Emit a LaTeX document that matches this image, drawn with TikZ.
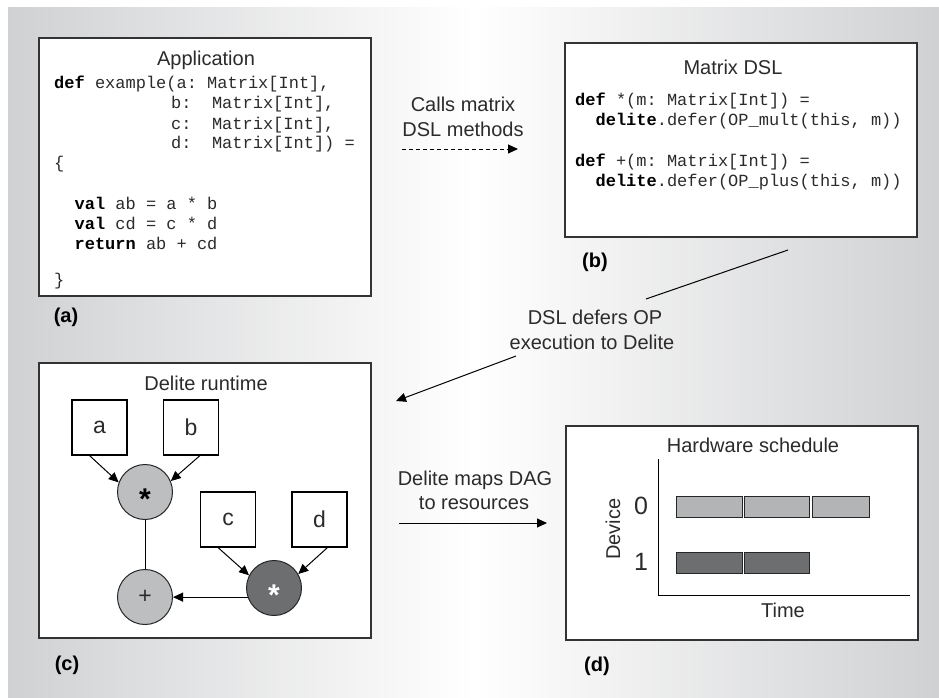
\documentclass[tikz,border=0pt]{standalone}
\usepackage{fontspec}
\setmainfont{Liberation Sans}
\setmonofont{Liberation Mono}
\usetikzlibrary{arrows.meta,calc}
\definecolor{bgg}{HTML}{D0D1D3}
\definecolor{lightop}{HTML}{BDBEC0}
\definecolor{darkop}{HTML}{6D6E70}
\definecolor{barlight}{HTML}{B3B4B6}
\definecolor{txt}{HTML}{2B2B2B}
\definecolor{frame}{HTML}{333333}
\tikzset{
  panel/.style={draw=frame, line width=1.5pt, fill=white, rectangle, inner sep=0pt},
  lbl/.style={font=\fontsize{20}{24}\selectfont, text=txt, anchor=base, inner sep=0pt},
  tag/.style={font=\fontsize{20}{24}\selectfont\bfseries, text=black, inner sep=0pt},
  code/.style={font=\fontsize{17}{20}\selectfont\ttfamily, text=txt, anchor=base west, inner sep=0pt},
  leaf/.style={draw=black, line width=1.1pt, fill=white, minimum size=55pt, inner sep=0pt, font=\fontsize{23}{23}\selectfont, text=txt},
  opc/.style={circle, draw=black!85, line width=1pt, minimum size=55pt, inner sep=0pt},
  ast/.style={font=\fontsize{30}{30}\selectfont\bfseries, inner sep=0pt, yshift=-7pt},
  tip/.style={-{Triangle[length=10pt,width=9pt]}, line width=1pt, black},
  bar/.style={draw=black!85, line width=1pt},
}
\begin{document}
\begin{tikzpicture}[x=1pt,y=-1pt]
\useasboundingbox (0,0) rectangle (939,698);
\fill[white] (0,0) rectangle (939,698);
\shade[left color=bgg,right color=bgg,middle color=white] (8,8) rectangle (939,698);

% panels
\node[panel, minimum width=332pt, minimum height=258pt] (pa) at (205,167) {};
\node[panel, minimum width=352pt, minimum height=194pt] (pb) at (741,140) {};
\node[panel, minimum width=332pt, minimum height=275pt] (pc) at (205,500.5) {};
\node[panel, minimum width=352pt, minimum height=214pt] (pd) at (742,533) {};

% panel (a)
\node[lbl] (ta) at (206,66) {Application};
\node[code] (a1) at (54,89) {\textbf{\color{black}def} example(a: Matrix[Int],};
\node[code] (a2) at (171,109) {b:~~Matrix[Int],};
\node[code] (a3) at (171,129) {c:~~Matrix[Int],};
\node[code] (a4) at (171,149) {d:~~Matrix[Int])~=};
\node[code] (a5) at (54,168) {\{};
\node[code] (a6) at (54,209) {~~\textbf{\color{black}val} ab = a * b};
\node[code] (a7) at (54,229) {~~\textbf{\color{black}val} cd = c * d};
\node[code] (a8) at (54,249) {~~\textbf{\color{black}return} ab + cd};
\node[code] (a9) at (54,285) {\}};
\node[tag] (la) at (66,317) {(a)};

% panel (b)
\node[lbl] (tb) at (733,75) {Matrix DSL};
\node[code] (b1) at (575,106) {\textbf{\color{black}def} *(m: Matrix[Int]) =};
\node[code] (b2) at (575,126) {~~\textbf{\color{black}delite}.defer(OP\_mult(this, m))};
\node[code] (b3) at (575,166) {\textbf{\color{black}def} +(m: Matrix[Int]) =};
\node[code] (b4) at (575,186) {~~\textbf{\color{black}delite}.defer(OP\_plus(this, m))};
\node[tag] (lb) at (595,262) {(b)};

% arrow (a)->(b)
\node[lbl] (l1a) at (463,112) {Calls matrix};
\node[lbl] (l1b) at (463,136) {DSL methods};
\coordinate (c1s) at (402,149);
\coordinate (c1e) at (518,149);
\draw[tip, dash pattern=on 4pt off 3pt] (c1s) -- (c1e);

% (b)->(c)
\coordinate (d1s) at (788,250);
\coordinate (d1e) at (646,299);
\draw[line width=1pt] (d1s) -- (d1e);
\node[lbl] (l2a) at (595,324) {DSL defers OP};
\node[lbl] (l2b) at (592,349) {execution to Delite};
\coordinate (d2s) at (516,356);
\coordinate (d2e) at (396,401);
\draw[tip] (d2s) -- (d2e);

% panel (c)
\node[lbl] (tc) at (206,390) {Delite runtime};
\node[leaf] (na) at (99.5,427.5) {a};
\node[leaf] (nb) at (191,427.5) {b};
\node[leaf] (nc) at (228,519.5) {c};
\node[leaf] (nd) at (319.5,519.5) {d};
\node[opc, fill=lightop] (m1) at (145,492) {};
\node[ast, text=black] (m1t) at (m1) {*};
\node[opc, fill=lightop, font=\fontsize{23}{23}\selectfont, text=txt] (pl) at (145,597) {+};
\node[opc, fill=darkop] (dk) at (274,588) {};
\node[ast, text=white] (dkt) at (dk) {*};
\draw[tip] ([xshift=-10pt]na.south) -- (m1.160);
\draw[tip] ([xshift=9pt]nb.south) -- (m1.23);
\draw[line width=1pt] (m1) -- (pl);
\draw[tip] ([xshift=-10pt]nc.south) -- (dk.153);
\draw[tip] ([xshift=8pt]nd.south) -- (dk.30);
\draw[tip] (dk.199) -- (dk.199 -| pl.east);
\node[tag] (lc) at (67,665) {(c)};

% (c)->(d)
\node[lbl] (l3a) at (475,485) {Delite maps DAG};
\node[lbl] (l3b) at (474,509) {to resources};
\coordinate (m3s) at (399,523);
\coordinate (m3e) at (547,523);
\draw[tip] (m3s) -- (m3e);

% panel (d)
\node[lbl] (td) at (753,452) {Hardware schedule};
\coordinate (ax0) at (658,459);
\coordinate (ax1) at (658,595);
\coordinate (ax2) at (910,595);
\draw[line width=1pt, black] (ax0) -- (ax1) -- (ax2);
\draw[bar, fill=barlight] (676,496) rectangle (742,517);
\draw[bar, fill=barlight] (744,496) rectangle (809,517);
\draw[bar, fill=barlight] (812,496) rectangle (869,517);
\draw[bar, fill=darkop] (676,552) rectangle (742,573);
\draw[bar, fill=darkop] (744,552) rectangle (809,573);
\node[font=\fontsize{25}{25}\selectfont, text=txt, inner sep=0pt] (y0) at (641,506) {0};
\node[font=\fontsize{25}{25}\selectfont, text=txt, inner sep=0pt] (y1) at (641,562) {1};
\node[font=\fontsize{20}{20}\selectfont, text=txt, rotate=90, inner sep=0pt] (dev) at (613,529) {Device};
\node[lbl] (tm) at (783,617) {Time};
\node[tag] (ld) at (597,666) {(d)};
\end{tikzpicture}
\end{document}
